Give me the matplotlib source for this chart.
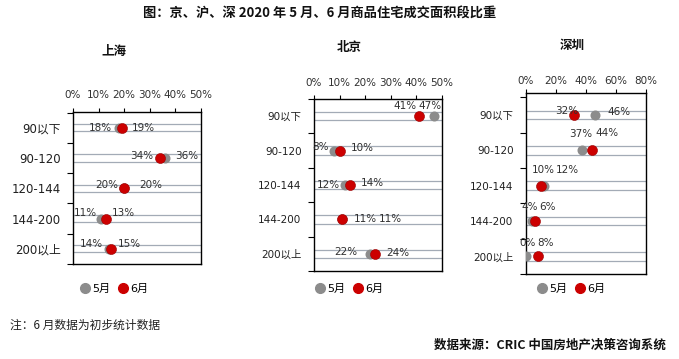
import matplotlib
matplotlib.use("Agg")
import matplotlib.pyplot as plt
from matplotlib.lines import Line2D

plt.rcParams['font.family'] = ['DejaVu Sans', 'Noto Sans CJK SC']

# ---------------- data ----------------
categories = ['90以下', '90-120', '120-144', '144-200', '200以上']
series_names = ['5月', '6月']

sh_may = [18, 36, 20, 11, 14]
sh_jun = [19, 34, 20, 13, 15]
bj_may = [47, 8, 12, 11, 22]
bj_jun = [41, 10, 14, 11, 24]
sz_may = [46, 37, 12, 4, 0]
sz_jun = [32, 44, 10, 6, 8]

panel_titles = ['上海', '北京', '深圳']
x_ticks_sh = [0, 10, 20, 30, 40, 50]
x_ticks_bj = [0, 10, 20, 30, 40, 50]
x_ticks_sz = [0, 20, 40, 60, 80]

main_title = '图：京、沪、深 2020 年 5 月、6 月商品住宅成交面积段比重'
note_text = '注：6 月数据为初步统计数据'
source_text = '数据来源：CRIC 中国房地产决策咨询系统'

# ---------------- layout / style ----------------
W, H = 679, 359
GREY = '#8C8C8C'
RED = '#CC0000'
GRID = '#A3ABB6'

fig = plt.figure(figsize=(W / 100, H / 100), dpi=100)

def rect(l, t, r, b):
    return [l / W, 1 - b / H, (r - l) / W, (b - t) / H]

# label offsets (dx px, dy px, ha) for may / jun per row
sh_off = [((-7, 0, 'right'), (10, 0, 'left')),
          ((10, 2, 'left'), (-7, 2, 'right')),
          ((-6, 3, 'right'), (15, 3, 'left')),
          ((-4, 6, 'right'), (6, 6, 'left')),
          ((-6, 5, 'right'), (6, 5, 'left'))]
bj_off = [((-4, 10, 'center'), (-2, 10, 'right')),
          ((-6, 4, 'right'), (11, 3, 'left')),
          ((-5, 0, 'right'), (11, 2, 'left')),
          ((37, 0, 'left'), (12, 0, 'left')),
          ((-13, 2, 'right'), (11, 1, 'left'))]
sz_off = [((12, 3, 'left'), (-7, 4, 'center')),
          ((-1, 16, 'center'), (15, 17, 'center')),
          ((23, 16, 'center'), (2, 16, 'center')),
          ((-2, 14, 'center'), (13, 14, 'center')),
          ((2, 13, 'center'), (8, 13, 'center'))]

panels = [
    dict(title=panel_titles[0], may=sh_may, jun=sh_jun, ticks=x_ticks_sh,
         box=(73, 112, 201, 264), ylim=(4.5, -0.52), title_xy=(114, 51),
         tick_pad=6, cat_fs=8.5, off=sh_off, leg_x=114),
    dict(title=panel_titles[1], may=bj_may, jun=bj_jun, ticks=x_ticks_bj,
         box=(314, 99, 442, 271), ylim=(4.5, -0.49), title_xy=(349, 48),
         tick_pad=5, cat_fs=7.5, off=bj_off, leg_x=349),
    dict(title=panel_titles[2], may=sz_may, jun=sz_jun, ticks=x_ticks_sz,
         box=(526, 93, 646, 274), ylim=(4.5, -0.62), title_xy=(572, 45),
         tick_pad=2, cat_fs=7.5, off=sz_off, leg_x=571),
]

for p in panels:
    ax = fig.add_axes(rect(*p['box']))
    n = len(categories)
    ys = list(range(n))
    # double grid lines around each category
    for y in ys:
        for d in (-0.12, 0.12):
            ax.axhline(y + d, color=GRID, lw=0.9, zorder=1)
    ax.scatter(p['may'], ys, s=52, color=GREY, zorder=3, linewidths=0)
    ax.scatter(p['jun'], ys, s=52, color=RED, zorder=4, edgecolors='#990000', linewidths=0.4)
    for i in ys:
        for val, (dx, dy, ha) in zip((p['may'][i], p['jun'][i]), p['off'][i]):
            ax.annotate(f'{val}%', (val, i), xytext=(dx, dy), textcoords='offset pixels',
                        ha=ha, va='center', fontsize=7.5, color='#303030', zorder=5)
    ax.set_xlim(p['ticks'][0], p['ticks'][-1])
    ax.set_ylim(*p['ylim'])
    ax.xaxis.tick_top()
    ax.set_xticks(p['ticks'])
    ax.set_xticklabels([f'{t}%' for t in p['ticks']])
    ax.tick_params(axis='x', direction='out', length=3, width=0.8, pad=p['tick_pad'],
                   labelsize=7.5, labelcolor='#303030')
    bounds = [b + 0.5 for b in range(-1, n)]
    ax.set_yticks(bounds)
    ax.set_yticklabels([])
    ax.set_yticks(ys, minor=True)
    ax.set_yticklabels(categories, minor=True)
    ax.tick_params(axis='y', which='major', direction='out', length=4, width=0.8)
    ax.tick_params(axis='y', which='minor', length=0, pad=9, labelsize=p['cat_fs'],
                   labelcolor='#202020')
    for s in ax.spines.values():
        s.set_linewidth(1.0)
        s.set_color('black')
    tx, ty = p['title_xy']
    fig.text(tx / W, 1 - ty / H, p['title'], ha='center', va='center', fontsize=9,
             fontweight='bold', family=['Noto Sans CJK SC'], color='#111111')
    handles = [Line2D([], [], ls='', marker='o', ms=7, color=GREY),
               Line2D([], [], ls='', marker='o', ms=7, color=RED)]
    fig.legend(handles, series_names, loc='center', bbox_to_anchor=(p['leg_x'] / W, 1 - 289 / H),
               ncol=2, frameon=False, fontsize=8, handletextpad=0.2, columnspacing=0.6,
               handlelength=1.0, borderpad=0)

fig.text(320 / W, 1 - 14 / H, main_title, ha='center', va='center', fontsize=9.5,
         fontweight='bold', family=['Noto Sans CJK SC'], color='#111111')
fig.text(10 / W, 1 - 325 / H, note_text, ha='left', va='center', fontsize=8.5,
         family=['Noto Sans CJK SC'], color='#222222')
fig.text(666 / W, 1 - 345 / H, source_text, ha='right', va='center', fontsize=9,
         fontweight='bold', family=['Noto Sans CJK SC'], color='#111111')

fig.savefig('out.png', dpi=100)
